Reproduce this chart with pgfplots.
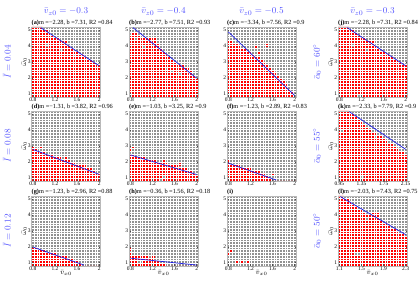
\documentclass[border=0pt]{standalone}
\usepackage{pgfplots}
\pgfplotsset{compat=1.18}
\usepackage{pgfplotstable}
\usepackage{fontspec}
\setmainfont{Liberation Serif}

\definecolor{dotgray}{RGB}{145,145,145}
\definecolor{dotred}{RGB}{255,0,0}
\definecolor{lineblue}{RGB}{30,30,230}
\definecolor{titleblue}{RGB}{80,80,255}

% top edge of the red region in each column (x = column centre)
\pgfplotstableread{
x    a    b    c    d    e    f    g    h
0.80 5.20 4.69 4.35 2.82 2.48 1.97 1.97 1.63
0.85 5.20 4.86 4.35 2.82 2.48 1.80 1.97 1.46
0.90 5.20 4.86 4.18 2.65 2.31 1.80 1.80 1.46
0.95 5.20 4.69 4.18 2.65 2.31 1.80 1.80 1.46
1.00 5.03 4.52 4.01 2.65 2.31 1.80 1.80 1.46
1.05 5.03 4.52 3.84 2.48 2.31 1.63 1.63 1.46
1.10 4.86 4.52 3.84 2.48 2.14 1.63 1.63 1.29
1.15 4.69 4.52 3.67 2.48 2.14 1.63 1.63 1.29
1.20 4.52 4.52 3.67 2.31 2.14 1.63 1.63 1.29
1.25 4.52 4.52 3.50 2.31 2.14 1.46 1.46 1.12
1.30 4.35 4.18 3.33 2.31 1.97 1.46 1.46 1.12
1.35 4.35 3.84 3.33 2.14 1.97 1.46 1.46 0.95
1.40 4.35 3.67 3.16 2.31 1.97 1.29 1.46 0.95
1.45 4.01 3.50 2.99 2.14 1.97 1.29 1.29 0.78
1.50 3.84 3.33 2.82 1.97 1.80 1.12 1.29 0.78
1.55 3.67 3.16 2.65 1.97 1.80 0.95 1.12 0.78
1.60 3.67 2.99 2.48 1.80 1.80 0.78 1.12 0.78
1.65 3.50 2.82 2.31 1.80 1.80 0.78 0.95 0.78
1.70 3.50 2.82 2.14 1.80 1.63 0.78 0.78 0.78
1.75 3.33 2.82 1.97 1.63 1.63 0.78 0.78 0.78
1.80 3.16 2.65 1.80 1.63 1.63 0.78 0.78 0.78
1.85 3.16 2.65 1.63 1.63 1.46 0.78 0.78 0.78
1.90 2.99 2.48 1.29 1.46 1.46 0.78 0.78 0.78
1.95 2.82 2.14 1.12 1.29 1.29 0.78 0.78 0.78
2.00 2.82 1.97 0.78 1.29 1.12 0.78 0.78 0.78
}\redA

\pgfplotstableread{
x    k
0.95 5.20
1.00 5.20
1.05 5.20
1.10 5.20
1.15 5.03
1.20 5.03
1.25 4.86
1.30 4.69
1.35 4.52
1.40 4.35
1.45 4.18
1.50 4.01
1.55 3.84
1.60 3.84
1.65 3.67
1.70 3.67
1.75 3.50
1.80 3.33
1.85 3.16
1.90 3.16
1.95 2.99
2.00 2.82
2.05 2.65
2.10 2.65
2.15 2.48
}\redK

\pgfplotstableread{
x    l
1.10 5.20
1.15 5.20
1.20 5.03
1.25 5.03
1.30 4.86
1.35 4.69
1.40 4.52
1.45 4.35
1.50 4.35
1.55 4.18
1.60 4.01
1.65 4.01
1.70 4.18
1.75 4.18
1.80 4.18
1.85 3.67
1.90 3.50
1.95 3.50
2.00 3.33
2.05 3.16
2.10 3.16
2.15 2.99
2.20 2.82
2.25 2.82
2.30 2.65
}\redL

\pgfplotsset{
  panel/.style={
    scale only axis, width=69bp, height=70bp,
    ymin=0.78, ymax=5.20, ytick={1,2,3,4,5},
    set layers, axis on top,
    axis background/.style={fill=dotgray},
    minor ytick={0.78,0.95,...,5.20},
    xminorgrids, yminorgrids,
    minor grid style={white, line width=0.75bp},
    /pgf/number format/assume math mode=true,
    tick label style={font=\fontsize{5.5}{5.5}\selectfont, inner sep=0.6bp},
    axis line style={gray!55, line width=0.4bp},
    major tick length=1.5bp, minor tick length=0bp,
    tick style={black!70, line width=0.3bp},
    every axis title/.style={at={(0,1)}, anchor=south west, inner sep=0pt,
                 yshift=0.6bp, font=\fontsize{6.3}{6.3}\selectfont},
    label style={font=\fontsize{7}{7}\selectfont},
    ylabel shift=-3bp, xlabel shift=-4bp,
  },
  leftx/.style={xmin=0.775, xmax=2.025, xtick={0.8,1.2,1.6,2},
    minor xtick={0.775,0.825,...,2.025}},
  redbars/.style={ybar, bar width=0.05, bar shift=0pt, fill=dotred, draw=none},
  holes/.style={only marks, mark=square*, mark size=1.25bp, color=dotgray},
  reddots/.style={only marks, mark=square*, mark size=1.25bp, color=dotred},
  fit/.style={on layer=axis foreground, lineblue, line width=0.7bp},
}

\begin{document}
\begin{tikzpicture}
\path (0,0) rectangle (419bp,291bp);

% ---------------- row 1 ----------------
\begin{axis}[panel, leftx, name=a, at={(31.5bp,194bp)}, anchor=south west,
  title={\textbf{(a)}m =−2.28, b =7.31, R2 =0.84}, ylabel={$\bar{\omega}_0$}]
\addplot[redbars] table[x=x,y=a]{\redA};
\addplot[holes] coordinates {(1.05,4.095) (1.30,3.755) (1.15,0.865) (1.55,3.415)};
\addplot[fit] coordinates {(0.943,5.16) (2.0,2.75)};
\end{axis}

\begin{axis}[panel, leftx, name=b, at={(129bp,194bp)}, anchor=south west,
  title={\textbf{(b)}m =−2.77, b =7.51, R2 =0.93}]
\addplot[redbars] table[x=x,y=b]{\redA};
\addplot[holes] coordinates {(1.05,3.925) (1.45,2.565) (1.55,2.395) (1.70,2.225) (0.90,4.435)};
\addplot[fit] coordinates {(0.848,5.16) (2.0,1.97)};
\end{axis}

\begin{axis}[panel, leftx, name=c, at={(227bp,194bp)}, anchor=south west,
  title={\textbf{(c)}m =−3.34, b =7.56, R2 =0.9}]
\addplot[redbars] table[x=x,y=c]{\redA};
\addplot[reddots] coordinates {(1.30,3.925) (1.50,4.095) (1.35,3.585)};
\addplot[fit] coordinates {(0.8,4.888) (2.0,0.88)};
\end{axis}

\begin{axis}[panel, leftx, name=j, at={(338bp,194bp)}, anchor=south west,
  title={\textbf{(j)}m =−2.28, b =7.31, R2 =0.84}, ylabel={$\bar{\omega}_0$}]
\addplot[redbars] table[x=x,y=a]{\redA};
\addplot[holes] coordinates {(1.05,4.095) (1.30,3.755) (1.15,0.865) (1.55,3.415)};
\addplot[fit] coordinates {(0.943,5.16) (2.0,2.75)};
\end{axis}

% ---------------- row 2 ----------------
\begin{axis}[panel, leftx, name=d, at={(31.5bp,110bp)}, anchor=south west,
  title={\textbf{(d)}m =−1.31, b =3.82, R2 =0.96}, ylabel={$\bar{\omega}_0$}]
\addplot[redbars] table[x=x,y=d]{\redA};
\addplot[reddots] coordinates {(0.80,2.905) (0.95,2.905) (1.75,1.715)};
\addplot[fit] coordinates {(0.8,2.772) (2.0,1.20)};
\end{axis}

\begin{axis}[panel, leftx, name=e, at={(129bp,110bp)}, anchor=south west,
  title={\textbf{(e)}m =−1.03, b =3.25, R2 =0.9}]
\addplot[redbars] table[x=x,y=e]{\redA};
\addplot[reddots] coordinates {(0.80,2.735) (0.85,2.905) (1.40,2.055) (1.70,1.885)};
\addplot[holes] coordinates {(1.35,0.865) (1.40,1.035)};
\addplot[fit] coordinates {(0.8,2.426) (2.0,1.19)};
\end{axis}

\begin{axis}[panel, leftx, name=f, at={(227bp,110bp)}, anchor=south west,
  title={\textbf{(f)}m =−1.23, b =2.89, R2 =0.83}]
\addplot[redbars] table[x=x,y=f]{\redA};
\addplot[reddots] coordinates {(0.80,2.055) (1.45,1.205) (1.60,1.205)};
\addplot[fit] coordinates {(0.8,1.906) (1.667,0.84)};
\end{axis}

\begin{axis}[panel, name=k, at={(338bp,110bp)}, anchor=south west,
  xmin=0.925, xmax=2.175, xtick={0.95,1.35,1.75,2.15},
  minor xtick={0.925,0.975,...,2.175},
  title={\textbf{(k)}m =−2.33, b =7.79, R2 =0.9}, ylabel={$\bar{\omega}_0$}]
\addplot[redbars] table[x=x,y=k]{\redK};
\addplot[holes] coordinates {(1.00,3.925) (1.35,1.035) (1.60,3.585)};
\addplot[fit] coordinates {(1.129,5.16) (2.15,2.78)};
\end{axis}

% ---------------- row 3 ----------------
\begin{axis}[panel, leftx, name=g, at={(31.5bp,25bp)}, anchor=south west,
  title={\textbf{(g)}m =−1.23, b =2.96, R2 =0.88}, ylabel={$\bar{\omega}_0$},
  xlabel={$\bar{v}_{x0}$}]
\addplot[redbars] table[x=x,y=g]{\redA};
\addplot[fit] coordinates {(0.8,1.976) (1.724,0.84)};
\end{axis}

\begin{axis}[panel, leftx, name=h, at={(129bp,25bp)}, anchor=south west,
  title={\textbf{(h)}m =−0.36, b =1.56, R2 =0.18}, xlabel={$\bar{v}_{x0}$}]
\addplot[redbars] table[x=x,y=h]{\redA};
\addplot[reddots] coordinates {(0.80,1.885) (1.10,1.375) (1.20,1.375)};
\addplot[holes] coordinates {(0.95,1.035) (1.00,1.035)};
\addplot[fit] coordinates {(0.8,1.272) (2.0,0.84)};
\end{axis}

\begin{axis}[panel, leftx, name=i, at={(227bp,25bp)}, anchor=south west,
  title={\textbf{(i)}}, xlabel={$\bar{v}_{x0}$}]
\addplot[reddots] coordinates {(0.80,1.545) (0.85,1.715) (0.95,1.035) (1.05,1.035) (1.15,1.035)};
\end{axis}

\begin{axis}[panel, name=l, at={(338bp,25bp)}, anchor=south west,
  xmin=1.075, xmax=2.325, xtick={1.1,1.5,1.9,2.3},
  minor xtick={1.075,1.125,...,2.325},
  title={\textbf{(l)}m =−2.03, b =7.43, R2 =0.75}, ylabel={$\bar{\omega}_0$},
  xlabel={$\bar{v}_{x0}$}]
\addplot[redbars] table[x=x,y=l]{\redL};
\addplot[holes] coordinates {(1.40,1.545) (1.45,1.545) (1.60,3.755)};
\addplot[fit] coordinates {(1.118,5.16) (2.3,2.761)};
\end{axis}

% ---------------- column / row headings ----------------
\begin{scope}[every node/.style={text=titleblue, font=\fontsize{9.5}{9.5}\selectfont}]
\node[anchor=base] at ([yshift=13bp]a.north) {$\bar{v}_{z0} = -0.3$};
\node[anchor=base] at ([yshift=13bp]b.north) {$\bar{v}_{z0} = -0.4$};
\node[anchor=base] at ([yshift=13bp]c.north) {$\bar{v}_{z0} = -0.5$};
\node[anchor=base] at ([yshift=13bp]j.north) {$\bar{v}_{z0} = -0.3$};
\end{scope}
\begin{scope}[every node/.style={text=titleblue, font=\fontsize{9}{9}\selectfont}]
\node[rotate=90] at ([xshift=-24.5bp]a.west) {$\bar{I} = 0.04$};
\node[rotate=90] at ([xshift=-24.5bp]d.west) {$\bar{I} = 0.08$};
\node[rotate=90] at ([xshift=-24.5bp]g.west) {$\bar{I} = 0.12$};
\node[rotate=90] at ([xshift=-21bp]j.west) {$\bar{\alpha}_0 = 60^{\circ}$};
\node[rotate=90] at ([xshift=-21bp]k.west) {$\bar{\alpha}_0 = 55^{\circ}$};
\node[rotate=90] at ([xshift=-21bp]l.west) {$\bar{\alpha}_0 = 50^{\circ}$};
\end{scope}
\end{tikzpicture}
\end{document}
